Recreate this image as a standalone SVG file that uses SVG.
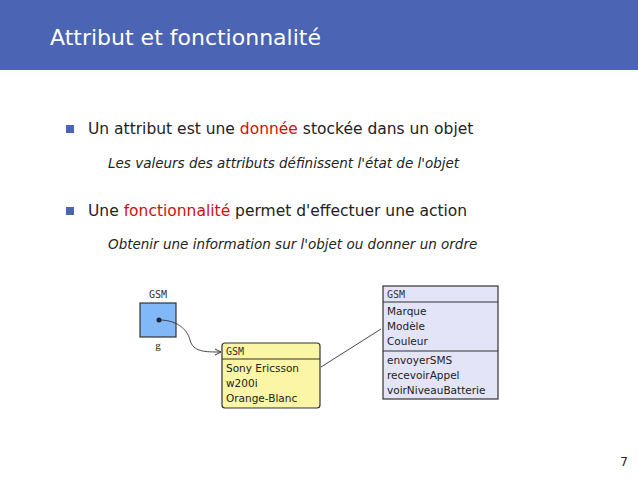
<svg xmlns="http://www.w3.org/2000/svg" width="638" height="479" viewBox="0 0 638 479">
<style>
.t{font-family:"DejaVu Sans",sans-serif;fill:#222}
.m{font-family:"DejaVu Sans Mono",monospace;font-size:10px;fill:#333}
.s{font-family:"DejaVu Sans",sans-serif;font-size:10.5px;fill:#222}
.r{fill:#d01010}
</style>
<defs><marker id="a" markerWidth="8" markerHeight="8" refX="7" refY="4" orient="auto" markerUnits="userSpaceOnUse"><path d="M1,1 L7,4 L1,7" fill="none" stroke="#333" stroke-width="1"/></marker></defs>
<rect x="0" y="0" width="638" height="70" fill="#4b64b3"/>
<text x="50" y="45" font-family="DejaVu Sans,sans-serif" font-size="22" fill="#fff">Attribut et fonctionnalité</text>
<rect x="66" y="125" width="8" height="8" fill="#4b64b3"/>
<text x="88" y="134" class="t" font-size="15.5">Un attribut est une <tspan class="r">donnée</tspan> stockée dans un objet</text>
<text x="108" y="168" class="t" font-size="13.5" font-style="italic">Les valeurs des attributs définissent l'état de l'objet</text>
<rect x="66" y="207" width="8" height="8" fill="#4b64b3"/>
<text x="88" y="216" class="t" font-size="15.5">Une <tspan class="r">fonctionnalité</tspan> permet d'effectuer une action</text>
<text x="108" y="249" class="t" font-size="13.5" font-style="italic">Obtenir une information sur l'objet ou donner un ordre</text>
<g id="var">
<text x="158" y="298" class="m" text-anchor="middle">GSM</text>
<rect x="140" y="303" width="36" height="34" fill="#80b8f8" stroke="#333" stroke-width="1.2"/>
<circle cx="159" cy="320" r="2.5" fill="#223"/>
<text x="158" y="349" font-family="Liberation Serif,serif" font-size="11" fill="#222" text-anchor="middle">g</text>
</g>
<g id="obj">
<rect x="222" y="343" width="98" height="65" rx="3" fill="#fbf5a6" stroke="#333" stroke-width="1.2"/>
<line x1="222" y1="359" x2="320" y2="359" stroke="#333" stroke-width="1.2"/>
<text x="226" y="355" class="m">GSM</text>
<text x="226" y="372" class="s">Sony Ericsson</text>
<text x="226" y="387" class="s">w200i</text>
<text x="226" y="402" class="s">Orange-Blanc</text>
</g>
<g id="class">
<rect x="383" y="286" width="115" height="113" fill="#e4e4f8" stroke="#333" stroke-width="1.2"/>
<line x1="383" y1="302" x2="498" y2="302" stroke="#333" stroke-width="1.2"/>
<line x1="383" y1="351" x2="498" y2="351" stroke="#333" stroke-width="1.2"/>
<text x="387" y="298" class="m">GSM</text>
<text x="387" y="315" class="s">Marque</text>
<text x="387" y="330" class="s">Modèle</text>
<text x="387" y="345" class="s">Couleur</text>
<text x="387" y="364" class="s">envoyerSMS</text>
<text x="387" y="379" class="s">recevoirAppel</text>
<text x="387" y="394" class="s">voirNiveauBatterie</text>
</g>
<g id="connectors" fill="none" stroke="#333" stroke-width="0.9">
<path d="M159,320 C180,320 188,332 190,340 C193,352 205,352 221,352" marker-end="url(#a)"/>
<line x1="321" y1="367" x2="381" y2="329"/>
</g>
<text x="628" y="466" class="t" font-size="12" text-anchor="end">7</text>
</svg>
